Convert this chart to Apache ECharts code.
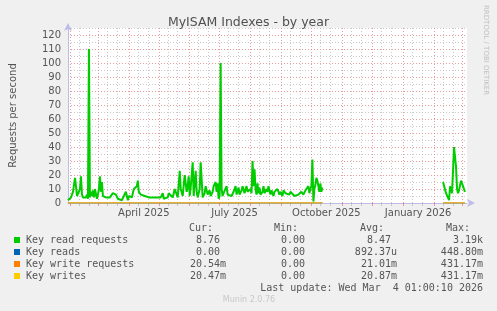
<!DOCTYPE html>
<html><head><meta charset="utf-8">
<script src="https://cdn.jsdelivr.net/npm/echarts@6/dist/echarts.min.js"></script>
<style>html,body{margin:0;padding:0;background:#f0f0f0}#c{width:497px;height:311px}</style>
</head><body><div id="c"></div><script>
// ---- data ----
const readDates = [
'2025-01-30','2025-01-31','2025-02-01','2025-02-02','2025-02-03','2025-02-04','2025-02-06','2025-02-07','2025-02-08','2025-02-09',
'2025-02-10','2025-02-11','2025-02-12','2025-02-13','2025-02-14','2025-02-15','2025-02-16','2025-02-17','2025-02-18','2025-02-19',
'2025-02-20','2025-02-21','2025-02-22','2025-02-23','2025-02-24','2025-02-25','2025-02-26','2025-02-27','2025-02-28','2025-03-01',
'2025-03-02','2025-03-03','2025-03-04','2025-03-05','2025-03-06','2025-03-07','2025-03-09','2025-03-11','2025-03-13','2025-03-15',
'2025-03-16','2025-03-18','2025-03-19','2025-03-21','2025-03-23','2025-03-25','2025-03-27','2025-03-29','2025-03-30','2025-03-31',
'2025-04-01','2025-04-03','2025-04-04','2025-04-06','2025-04-08','2025-04-09','2025-04-10','2025-04-11','2025-04-13','2025-04-15',
'2025-04-17','2025-04-19','2025-04-21','2025-04-23','2025-04-25','2025-04-27','2025-04-29','2025-05-01','2025-05-03','2025-05-05',
'2025-05-06','2025-05-08','2025-05-10','2025-05-11','2025-05-13','2025-05-15','2025-05-17','2025-05-18','2025-05-20','2025-05-22',
'2025-05-23','2025-05-25','2025-05-27','2025-05-28','2025-05-29','2025-05-30','2025-05-31','2025-06-01','2025-06-02','2025-06-04',
'2025-06-05','2025-06-07','2025-06-08','2025-06-09','2025-06-11','2025-06-12','2025-06-14','2025-06-16','2025-06-17','2025-06-19',
'2025-06-21','2025-06-22','2025-06-24','2025-06-25','2025-06-27','2025-06-28','2025-06-29','2025-06-30','2025-07-01','2025-07-02',
'2025-07-03','2025-07-04','2025-07-05','2025-07-07','2025-07-08','2025-07-09','2025-07-11','2025-07-13','2025-07-15','2025-07-17',
'2025-07-18','2025-07-20','2025-07-21','2025-07-23','2025-07-24','2025-07-26','2025-07-27','2025-07-28','2025-07-29','2025-07-31',
'2025-08-01','2025-08-02','2025-08-03','2025-08-04','2025-08-05','2025-08-06','2025-08-07','2025-08-08','2025-08-09','2025-08-10',
'2025-08-11','2025-08-13','2025-08-14','2025-08-15','2025-08-17','2025-08-18','2025-08-19','2025-08-21','2025-08-22','2025-08-24',
'2025-08-25','2025-08-27','2025-08-28','2025-08-30','2025-08-31','2025-09-02','2025-09-03','2025-09-05','2025-09-07','2025-09-09',
'2025-09-10','2025-09-12','2025-09-14','2025-09-16','2025-09-18','2025-09-20','2025-09-21','2025-09-23','2025-09-25','2025-09-27',
'2025-09-28','2025-09-29','2025-09-30','2025-10-01','2025-10-02','2025-10-03','2025-10-04','2025-10-05','2025-10-06','2025-10-07',
'2025-10-08','2025-10-09','2025-10-10','2025-10-11','2025-10-12','2025-12-01',
'2026-02-10','2026-02-11','2026-02-13','2026-02-15','2026-02-16','2026-02-17','2026-02-18','2026-02-19','2026-02-21','2026-02-23',
'2026-02-24','2026-02-25','2026-02-26','2026-02-28','2026-03-01','2026-03-03','2026-03-04'
];
const readValues = [
2,3,2,4,3,8,18,12,5,4,
6,10,19,6,4,3,5,4,6,3,
110,4,8,5,9,4,10,11,3,6,
10,19,8,15,5,4,4,3,4,5,
7,8,6,3,3,2,3,8,5,2,
5,6,4,10,11,12,16,8,6,6,
5,5,4,3,4,3,4,3,4,7,
3,3,4,7,8,4,10,9,4,23,
10,5,20,14,8,12,19,5,11,29,
5,23,8,4,10,29,4,7,12,6,
9,5,8,12,15,8,14,3,5,100,
10,5,7,6,12,6,7,5,8,12,
6,11,6,9,12,7,10,12,8,9,
10,7,30,12,24,10,6,14,7,11,
6,8,12,7,10,8,12,6,9,5,
8,7,10,6,8,5,9,7,8,6,
8,7,5,4,6,5,8,6,9,8,
12,7,10,12,31,1,10,13,18,16,
15,8,14,8,11,null,
15,14,7,6,2,12,9,7,40,26,
10,7,9,16,14,15,8
];
const otherDates = ['2025-01-30','2025-10-12','2025-12-01','2026-02-10','2026-03-04'];
const keyReadsValues = [0, 0, null, 0, 0];
const keyWriteReqValues = [0.02, 0.02, null, 0.02, 0.02];
const keyWritesValues = [0.02, 0.02, null, 0.02, 0.02];

const monthStarts = ['2025-02-01','2025-03-01','2025-04-01','2025-05-01','2025-06-01','2025-07-01','2025-08-01',
  '2025-09-01','2025-10-01','2025-11-01','2025-12-01','2026-01-01','2026-02-01','2026-03-01'];
const minorDays = [10, 20];
const xLabelDates = ['2025-04-16','2025-07-16','2025-10-16','2026-01-16'];
const xLabels = ['April 2025','July 2025','October 2025','January 2026'];
const rangeStart = '2025-01-30', rangeEnd = '2026-03-06';

const legendNames = ['Key read requests','Key reads','Key write requests','Key writes'];
const legendColors = ['#00CC00','#0066B3','#FF8000','#FFCC00'];
const curValues = ['8.76 ','0.00 ','20.54m','20.47m'];
const minValues = ['0.00 ','0.00 ','0.00 ','0.00 '];
const avgValues = ['8.47 ','892.37u','21.01m','20.87m'];
const maxValues = ['3.19k','448.80m','431.17m','431.17m'];
const lastUpdate = 'Last update: Wed Mar  4 01:00:10 2026';

// ---- build ----
const t = s => Date.parse(s + 'T00:00:00Z');
const minorDates = [];
monthStarts.forEach(m => minorDays.forEach(d => minorDates.push(m.slice(0, 8) + String(d).padStart(2, '0'))));
const xmin = t(rangeStart), xmax = t(rangeEnd);
const pair = (ds, vs) => ds.map((d, i) => [t(d), vs[i]]);
const MAJ = 'rgba(225,120,120,0.75)', MIN = 'rgba(180,180,180,0.7)', AX = '#bcbce6';
const mono = 'DejaVu Sans Mono', sans = 'DejaVu Sans';

const chart = echarts.init(document.getElementById('c'), null, {renderer: 'canvas'});
const graphics = [];
const rowY = [240, 252, 264, 276];
[['Cur:',213],['Min:',298],['Avg:',384],['Max:',470]].forEach(h => graphics.push({type:'text', style:{x:h[1], y:228, text:h[0], font:'10px '+mono, fill:'#555', align:'right', verticalAlign:'middle'}}));
legendNames.forEach((n, i) => {
  graphics.push({type:'rect', shape:{x:14, y:rowY[i]-3, width:6, height:6}, style:{fill:legendColors[i]}});
  graphics.push({type:'text', style:{x:26, y:rowY[i], text:n, font:'10px '+mono, fill:'#555', verticalAlign:'middle'}});
  [[curValues,226],[minValues,311],[avgValues,397],[maxValues,483]].forEach(c =>
    graphics.push({type:'text', style:{x:c[1], y:rowY[i], text:c[0][i], font:'10px '+mono, fill:'#555', align:'right', verticalAlign:'middle', whiteSpace:'pre'}}));
});
graphics.push({type:'text', style:{x:483, y:288, text:lastUpdate, font:'10px '+mono, fill:'#555', align:'right', verticalAlign:'middle'}});
graphics.push({type:'text', style:{x:249, y:300, text:'Munin 2.0.76', font:'8px '+sans, fill:'#c8c8c8', align:'center', verticalAlign:'middle'}});
graphics.push({type:'text', x:486, y:5, rotation:-Math.PI/2, style:{x:0, y:0, text:'RRDTOOL / TOBI OETIKER', font:'7px '+sans, fill:'#c0c0c0', verticalAlign:'middle'}});

chart.setOption({
  animation: false,
  backgroundColor: '#f0f0f0',
  title: {text: 'MyISAM Indexes - by year', left: 'center', top: 11,
    textStyle: {fontFamily: sans, fontSize: 12.5, fontWeight: 'normal', color: '#505050'}},
  grid: {left: 67, right: 30, top: 28, bottom: 108, show: true, backgroundColor: '#ffffff', borderWidth: 0},
  xAxis: [
    {type:'value', min:xmin, max:xmax, position:'bottom',
      axisLine:{show:true, lineStyle:{color:AX, width:1}, symbol:['none','arrow'], symbolSize:[6,8], symbolOffset:[0,8]},
      axisTick:{show:false}, axisLabel:{show:false}, splitLine:{show:false}},
    {type:'value', min:xmin, max:xmax, position:'bottom',
      axisLine:{show:false}, axisTick:{show:true, customValues:minorDates.map(t), length:3, lineStyle:{color:MIN}},
      axisLabel:{show:false}, splitLine:{show:true, lineStyle:{color:MIN, type:[1,2], width:1}}},
    {type:'value', min:xmin, max:xmax, position:'bottom',
      axisLine:{show:false}, axisTick:{show:true, customValues:monthStarts.map(t), length:3, lineStyle:{color:MAJ}},
      axisLabel:{show:true, customValues:xLabelDates.map(t), margin:5, fontFamily:sans, fontSize:10, color:'#555',
        formatter: v => xLabels[xLabelDates.map(t).indexOf(v)] || ''},
      splitLine:{show:true, lineStyle:{color:MAJ, type:[1,2], width:1}}}
  ],
  yAxis: {type:'value', min:0, max:125, interval:5,
    name:'Requests per second', nameLocation:'middle', nameGap:50, nameRotate:90,
    nameTextStyle:{fontFamily:sans, fontSize:10, color:'#555'},
    axisLine:{show:true, lineStyle:{color:AX}, symbol:['none','arrow'], symbolSize:[6,8], symbolOffset:[0,5]},
    axisTick:{show:false},
    axisLabel:{fontFamily:sans, fontSize:10, color:'#555', margin:7, formatter: v => (v % 10 === 0 ? String(v) : '')},
    splitLine:{show:true, lineStyle:{color:[MAJ, MIN], type:[1,2], width:1}}},
  series: [
    {name:legendNames[0], type:'line', xAxisIndex:0, data:pair(readDates, readValues), showSymbol:false, connectNulls:false,
      lineStyle:{color:legendColors[0], width:2}, itemStyle:{color:legendColors[0]}, z:3},
    {name:legendNames[1], type:'line', xAxisIndex:0, data:pair(otherDates, keyReadsValues), showSymbol:false,
      lineStyle:{color:legendColors[1], width:1}, z:4},
    {name:legendNames[2], type:'line', xAxisIndex:0, data:pair(otherDates, keyWriteReqValues), showSymbol:false,
      lineStyle:{color:legendColors[2], width:1}, z:5},
    {name:legendNames[3], type:'line', xAxisIndex:0, data:pair(otherDates, keyWritesValues), showSymbol:false,
      lineStyle:{color:legendColors[3], width:1}, z:6}
  ],
  graphic: graphics
});
</script></body></html>
